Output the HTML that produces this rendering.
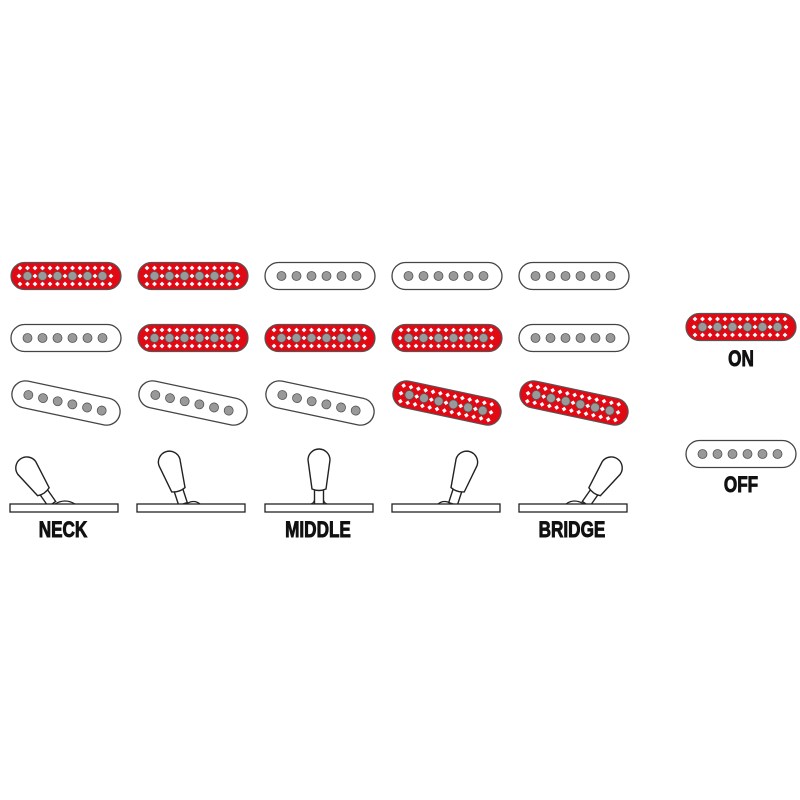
<!DOCTYPE html>
<html><head><meta charset="utf-8"><style>
html,body{margin:0;padding:0;background:#fff;}
svg{display:block}
text{font-family:"Liberation Sans",sans-serif;font-weight:bold;font-size:22px;text-anchor:middle;fill:#111;stroke:#111;stroke-width:0.9}
</style></head><body>
<svg width="800" height="800" viewBox="0 0 800 800">
<defs>
<clipPath id="cp"><rect x="-55" y="-13.5" width="110" height="27" rx="13.5"/></clipPath>
<g id="dots" fill="#999" stroke="#555" stroke-width="0.8">
<circle cx="-38.5" cy="0" r="4.5"/><circle cx="-23.5" cy="0" r="4.5"/><circle cx="-8.5" cy="0" r="4.5"/><circle cx="6.5" cy="0" r="4.5"/><circle cx="21.5" cy="0" r="4.5"/><circle cx="36.5" cy="0" r="4.5"/>
</g>
<path id="d" d="M0,-2.4 L2.4,0 L0,2.4 L-2.4,0Z" fill="#fff"/>
<g id="off">
<rect x="-55" y="-13.5" width="110" height="27" rx="13.5" fill="#fff" stroke="#444" stroke-width="1.3"/>
<use href="#dots"/>
</g>
<g id="on">
<rect x="-55" y="-13.5" width="110" height="27" rx="13.5" fill="#e00914"/>
<g clip-path="url(#cp)">
<use href="#d" x="-46" y="-8"/><use href="#d" x="-38.5" y="-8"/><use href="#d" x="-31" y="-8"/><use href="#d" x="-23.5" y="-8"/><use href="#d" x="-16" y="-8"/><use href="#d" x="-8.5" y="-8"/><use href="#d" x="-1" y="-8"/><use href="#d" x="6.5" y="-8"/><use href="#d" x="14" y="-8"/><use href="#d" x="21.5" y="-8"/><use href="#d" x="29" y="-8"/><use href="#d" x="36.5" y="-8"/><use href="#d" x="44" y="-8"/>
<use href="#d" x="-46" y="8"/><use href="#d" x="-38.5" y="8"/><use href="#d" x="-31" y="8"/><use href="#d" x="-23.5" y="8"/><use href="#d" x="-16" y="8"/><use href="#d" x="-8.5" y="8"/><use href="#d" x="-1" y="8"/><use href="#d" x="6.5" y="8"/><use href="#d" x="14" y="8"/><use href="#d" x="21.5" y="8"/><use href="#d" x="29" y="8"/><use href="#d" x="36.5" y="8"/><use href="#d" x="44" y="8"/>
<use href="#d" x="-47" y="0"/><use href="#d" x="-31" y="0"/><use href="#d" x="-16" y="0"/><use href="#d" x="-1" y="0"/><use href="#d" x="14" y="0"/><use href="#d" x="29" y="0"/><use href="#d" x="45" y="0"/>
</g>
<rect x="-55" y="-13.5" width="110" height="27" rx="13.5" fill="none" stroke="#555" stroke-width="1.2"/>
<use href="#dots"/>
</g>
<g id="lever" fill="#fff" stroke="#222" stroke-width="1.4">
<rect x="-4.5" y="-16" width="9" height="16"/>
<path d="M-7,-15 L-11,-44 A11,11 0 0 1 11,-44 L7,-15 Q0,-12 -7,-15Z"/>
</g>
<g id="plate"><rect x="0" y="504" width="108" height="8" fill="#fff" stroke="#222" stroke-width="1.3"/></g>
</defs>

<use href="#on" x="66" y="276"/>
<use href="#on" x="193" y="276"/>
<use href="#off" x="320" y="276"/>
<use href="#off" x="447" y="276"/>
<use href="#off" x="574" y="276"/>

<use href="#off" x="66" y="338"/>
<use href="#on" x="193" y="338"/>
<use href="#on" x="320" y="338"/>
<use href="#on" x="447" y="338"/>
<use href="#off" x="574" y="338"/>

<use href="#off" transform="translate(66,403) rotate(12)"/>
<use href="#off" transform="translate(193,403) rotate(12)"/>
<use href="#off" transform="translate(320,403) rotate(12)"/>
<use href="#on" transform="translate(447,403) rotate(12)"/>
<use href="#on" transform="translate(574,403) rotate(12)"/>

<path d="M55,504 Q65,498 75,504" fill="#fff" stroke="#222" stroke-width="1.2"/>
<use href="#lever" transform="translate(52,504) rotate(-35)"/>
<use href="#plate" x="10"/>
<path d="M186,504 Q194,499 200,504" fill="#fff" stroke="#222" stroke-width="1.2"/>
<use href="#lever" transform="translate(183,504) rotate(-18)"/>
<use href="#plate" x="137"/>
<use href="#lever" transform="translate(319,504)"/>
<path d="M311,504 Q314,503 314.5,500 M323.5,500 Q324,503 327,504" fill="none" stroke="#222" stroke-width="1.2"/>
<use href="#plate" x="265"/>
<path d="M438,504 Q444,499 452,504" fill="#fff" stroke="#222" stroke-width="1.2"/>
<use href="#lever" transform="translate(453,504) rotate(18)"/>
<use href="#plate" x="392"/>
<path d="M566,504 Q574,498 584,504" fill="#fff" stroke="#222" stroke-width="1.2"/>
<use href="#lever" transform="translate(586,504) rotate(35)"/>
<use href="#plate" x="519"/>

<text transform="translate(63,537) scale(0.78,1)">NECK</text>
<text transform="translate(318,537) scale(0.78,1)">MIDDLE</text>
<text transform="translate(572,537) scale(0.78,1)">BRIDGE</text>

<use href="#on" x="741" y="327"/>
<use href="#off" x="741" y="454"/>
<text transform="translate(741,366) scale(0.78,1)">ON</text>
<text transform="translate(741,492) scale(0.78,1)">OFF</text>
</svg>
</body></html>
